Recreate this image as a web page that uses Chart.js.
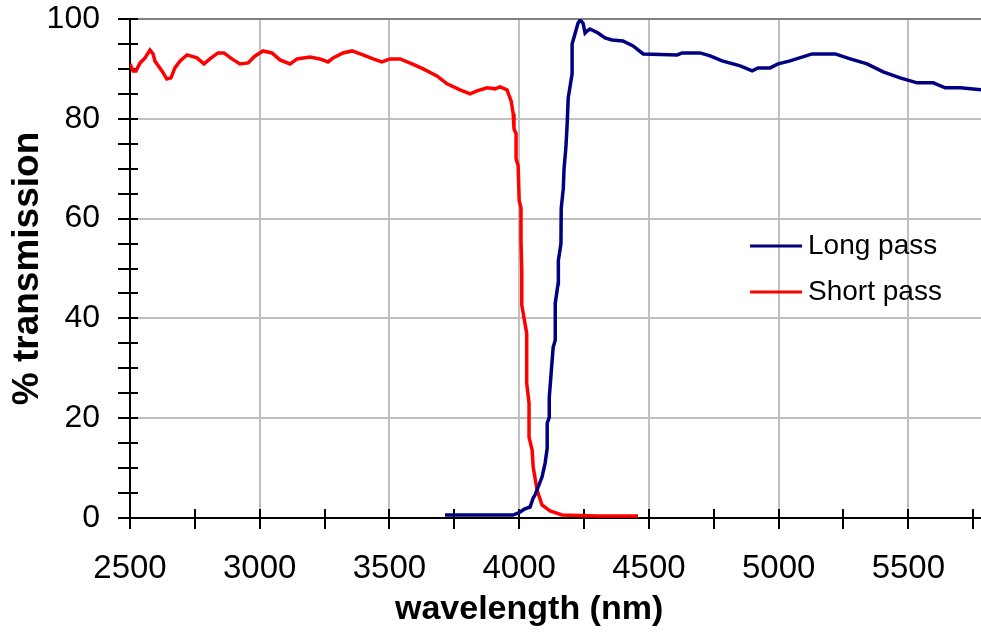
<!DOCTYPE html>
<html>
<head>
<meta charset="utf-8">
<script src="https://cdn.jsdelivr.net/npm/chart.js@4.4.1/dist/chart.umd.min.js"></script>
<style>
  body { margin: 0; background: #fff; }
  #wrap { width: 981px; height: 632px; position: relative; }
</style>
</head>
<body>
<div id="wrap"><canvas id="grafica"></canvas></div>
<script>
// Datos
const seriesNames = ["Long pass", "Short pass"];
const xTitle = "wavelength (nm)";
const yTitle = "% transmission";

// Long pass (azul)
const longWl = [3714, 3850, 3977, 4004, 4020, 4042, 4054, 4061, 4088, 4100, 4108, 4108, 4116, 4116,
  4122, 4124, 4131, 4139, 4139, 4150, 4151, 4161, 4162, 4170, 4173, 4180, 4185, 4189, 4204, 4204,
  4215, 4227, 4235, 4246, 4254, 4262, 4273, 4304, 4331, 4358, 4400, 4439, 4478, 4609, 4628, 4697,
  4736, 4782, 4852, 4898, 4921, 4967, 4998, 5044, 5129, 5218, 5276, 5341, 5403, 5468, 5534, 5596,
  5642, 5700, 5781];
const longT = [0.6, 0.6, 0.6, 1.2, 1.8, 2.2, 4.0, 4.6, 8.2, 11.0, 14.0, 19.0, 20.2, 24.2,
  28.2, 29.6, 34.2, 35.6, 43.0, 47.0, 51.6, 55.0, 62.0, 66.0, 70.0, 74.2, 79.0, 84.2, 89.0, 95.0,
  97.0, 99.2, 99.8, 99.2, 97.2, 97.6, 98.0, 97.2, 96.2, 95.8, 95.6, 94.6, 93.0, 92.8, 93.2, 93.2,
  92.6, 91.6, 90.6, 89.6, 90.2, 90.2, 91.0, 91.6, 93.0, 93.0, 92.0, 91.0, 89.4, 88.2, 87.2, 87.2,
  86.2, 86.2, 85.8];

// Short pass (rojo)
const shortWl = [2500, 2512, 2523, 2539, 2558, 2577, 2589, 2596, 2623, 2642, 2658, 2673, 2693, 2720,
  2758, 2785, 2808, 2839, 2862, 2893, 2924, 2955, 2982, 3013, 3047, 3078, 3117, 3144, 3194, 3232,
  3263, 3283, 3321, 3356, 3398, 3437, 3471, 3502, 3541, 3587, 3630, 3683, 3722, 3772, 3811, 3838,
  3876, 3907, 3926, 3953, 3969, 3977, 3980, 3988, 3988, 3996, 4000, 4007, 4007, 4010, 4010, 4029,
  4029, 4038, 4038, 4050, 4054, 4069, 4088, 4119, 4165, 4300, 4458];
const shortT = [91.0, 89.6, 89.6, 91.2, 92.2, 93.8, 93.0, 91.6, 89.6, 88.0, 88.2, 90.2, 91.6, 92.8,
  92.2, 91.0, 92.0, 93.2, 93.2, 92.0, 91.0, 91.2, 92.6, 93.6, 93.2, 91.8, 91.0, 92.0, 92.4, 92.0,
  91.4, 92.2, 93.2, 93.6, 92.8, 92.0, 91.4, 92.0, 92.0, 91.0, 90.0, 88.6, 87.0, 85.8, 85.0, 85.6,
  86.2, 86.0, 86.4, 85.8, 83.6, 81.0, 78.0, 77.0, 72.0, 70.6, 63.6, 62.2, 55.6, 49.6, 42.7, 37.0,
  27.0, 23.0, 16.2, 13.6, 10.2, 5.6, 2.6, 1.4, 0.6, 0.4, 0.4];

// Ejes
const xMin = 2500, xMax = 5780;
const xTicks = [2500, 2750, 3000, 3250, 3500, 3750, 4000, 4250, 4500, 4750, 5000, 5250, 5500, 5750];
const xLabels = ["2500", "", "3000", "", "3500", "", "4000", "", "4500", "", "5000", "", "5500", ""];
const yMin = 0, yMax = 100;
const yTicks = [0, 5, 10, 15, 20, 25, 30, 35, 40, 45, 50, 55, 60, 65, 70, 75, 80, 85, 90, 95, 100];
const yLabels = ["0", "", "", "", "20", "", "", "", "40", "", "", "", "60", "", "", "", "80", "", "", "", "100"];

const colores = ["#000080", "#ff0000"];

function puntos(xs, ys){
    return xs.map((x, i) => ({ x: x, y: ys[i] }));
}

Chart.defaults.font.family = '"Liberation Sans", Arial, sans-serif';
Chart.defaults.color = "#000";

// Marcas que cruzan el eje (hacia adentro)
const marcasInternas = {
    id: "marcasInternas",
    beforeDatasetsDraw(chart){
        const { ctx, chartArea, scales } = chart;
        ctx.save();
        ctx.strokeStyle = "#000";
        ctx.lineWidth = 2;
        ctx.beginPath();
        scales.x.ticks.forEach(t => {
            const px = Math.round(scales.x.getPixelForValue(t.value));
            ctx.moveTo(px, chartArea.bottom);
            ctx.lineTo(px, chartArea.bottom - 9);
        });
        scales.y.ticks.forEach(t => {
            const py = Math.round(scales.y.getPixelForValue(t.value));
            ctx.moveTo(chartArea.left, py);
            ctx.lineTo(chartArea.left + 8, py);
        });
        ctx.stroke();
        ctx.restore();
    }
};

// Leyenda dentro del area de la grafica y titulo del eje X (no centrado en el area)
const leyenda = {
    id: "leyenda",
    afterDraw(chart){
        const { ctx, chartArea } = chart;
        const ancho = chartArea.right - chartArea.left;
        const x0 = chartArea.left + ancho * 0.7286;
        let y0 = chartArea.top + (chartArea.bottom - chartArea.top) * 0.455;
        ctx.save();
        ctx.font = '28px "Liberation Sans", Arial, sans-serif';
        ctx.textBaseline = "middle";
        chart.data.datasets.forEach(ds => {
            ctx.strokeStyle = ds.borderColor;
            ctx.lineWidth = 3;
            ctx.beginPath();
            ctx.moveTo(x0, y0);
            ctx.lineTo(x0 + 52, y0);
            ctx.stroke();
            ctx.fillStyle = "#000";
            ctx.fillText(ds.label, x0 + 58, y0);
            y0 += 46;
        });
        // Titulo eje X
        ctx.font = 'bold 34px "Liberation Sans", Arial, sans-serif';
        ctx.textAlign = "center";
        ctx.fillText(xTitle, chartArea.left + ancho * 0.469, chartArea.bottom + 92);
        ctx.restore();
    }
};

const canvas = document.getElementById("grafica");
new Chart(canvas, {
    type: "scatter",
    data: {
        datasets: [
            {
                label: seriesNames[0],
                data: puntos(longWl, longT),
                borderColor: colores[0],
                backgroundColor: colores[0],
                borderWidth: 3.5,
                pointRadius: 0,
                showLine: true,
                tension: 0
            },
            {
                label: seriesNames[1],
                data: puntos(shortWl, shortT),
                borderColor: colores[1],
                backgroundColor: colores[1],
                borderWidth: 3.5,
                pointRadius: 0,
                showLine: true,
                tension: 0
            }
        ]
    },
    options: {
        responsive: true,
        maintainAspectRatio: false,
        animation: false,
        layout: { padding: { top: 19, right: 0, left: 0, bottom: 0 } },
        plugins: {
            legend: { display: false },
            tooltip: { enabled: false }
        },
        scales: {
            x: {
                type: "linear",
                min: xMin,
                max: xMax,
                afterBuildTicks(scale){ scale.ticks = xTicks.map(v => ({ value: v })); },
                afterFit(scale){
                    scale.height = 114;
                    scale.paddingLeft = 0;
                    scale.paddingRight = 0;
                },
                border: { color: "#000", width: 2 },
                grid: {
                    color(ctx){
                        const i = ctx.index;
                        if(xLabels[i] && i > 0) return "#c0c0c0";
                        return "rgba(0,0,0,0)";
                    },
                    lineWidth: 2,
                    drawTicks: true,
                    tickLength: 11,
                    tickColor: "#000",
                    tickWidth: 2
                },
                ticks: {
                    autoSkip: false,
                    maxRotation: 0,
                    padding: 20,
                    font: { size: 33 },
                    callback(v, i){ return xLabels[i]; }
                },
                title: { display: false }
            },
            y: {
                min: yMin,
                max: yMax,
                afterBuildTicks(scale){ scale.ticks = yTicks.map(v => ({ value: v })); },
                afterFit(scale){
                    scale.width = 130;
                    scale.paddingTop = 0;
                    scale.paddingBottom = 0;
                },
                border: { color: "#000", width: 2 },
                grid: {
                    color(ctx){
                        const i = ctx.index;
                        if(i === yTicks.length - 1) return "#808080";
                        if(yLabels[i] && i > 0) return "#c0c0c0";
                        return "rgba(0,0,0,0)";
                    },
                    lineWidth: 2,
                    drawTicks: true,
                    tickLength: 12,
                    tickColor: "#000",
                    tickWidth: 2
                },
                ticks: {
                    autoSkip: false,
                    padding: 18,
                    font: { size: 32, lineHeight: 1 },
                    callback(v, i){ return yLabels[i]; }
                },
                title: {
                    display: true,
                    text: yTitle,
                    font: { size: 37, weight: "bold", lineHeight: 1.1 },
                    padding: { top: 7, bottom: 0 }
                }
            }
        }
    },
    plugins: [marcasInternas, leyenda]
});
</script>
</body>
</html>
